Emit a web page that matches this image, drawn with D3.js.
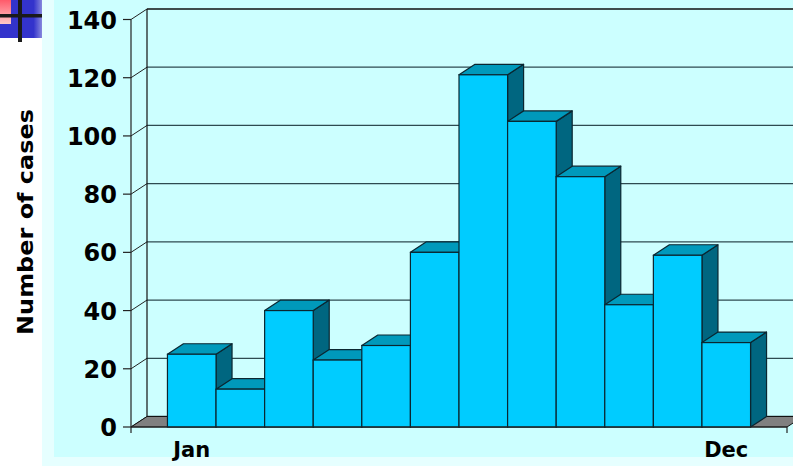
<!DOCTYPE html>
<html>
<head>
<meta charset="utf-8">
<script src="https://cdn.jsdelivr.net/npm/d3@7"></script>
<style>
  html, body { margin: 0; padding: 0; background: #fff; }
  svg { display: block; }
</style>
</head>
<body>
<div id="chart"></div>
<script>
// monthly case counts
const months = ["Jan", "Feb", "Mar", "Apr", "May", "Jun", "Jul", "Aug", "Sep", "Oct", "Nov", "Dec"];
const cases = [25, 13, 40, 23, 28, 60, 121, 105, 86, 42, 59, 29];
const yTicks = [0, 20, 40, 60, 80, 100, 120, 140];
const shownMonths = ["Jan", "Dec"];
const yTitle = "Number of cases";

const W = 793, H = 466;
const depthX = 16, depthY = -10.5; // 3d offset of back wall / bar depth

const svg = d3.select("#chart").append("svg")
  .attr("width", W)
  .attr("height", H);

const defs = svg.append("defs");

// backgrounds
svg.append("rect").attr("x", 42).attr("y", 0).attr("width", W - 42).attr("height", H).attr("fill", "#e6ffff");
svg.append("rect").attr("x", 54).attr("y", 0).attr("width", W - 54).attr("height", 457).attr("fill", "#ccffff");

// small slide logo in the corner
const blueGrad = defs.append("linearGradient").attr("id", "blueGrad");
blueGrad.append("stop").attr("offset", "0.8").attr("stop-color", "#3333cc");
blueGrad.append("stop").attr("offset", "1").attr("stop-color", "#8888dd");
const pinkGrad = defs.append("linearGradient").attr("id", "pinkGrad")
  .attr("x1", 0).attr("y1", 0).attr("x2", 0).attr("y2", 1);
pinkGrad.append("stop").attr("offset", "0").attr("stop-color", "#ff5a6a");
pinkGrad.append("stop").attr("offset", "1").attr("stop-color", "#ffc8c8");
const logo = svg.append("g");
logo.append("rect").attr("x", 0).attr("y", 0).attr("width", 42).attr("height", 38).attr("fill", "url(#blueGrad)");
logo.append("rect").attr("x", 0).attr("y", 0).attr("width", 11).attr("height", 24).attr("fill", "url(#pinkGrad)");
logo.append("rect").attr("x", 0).attr("y", 14).attr("width", 42).attr("height", 3.5).attr("fill", "#1a1a1a");
logo.append("rect").attr("x", 18).attr("y", 0).attr("width", 4).attr("height", 42).attr("fill", "#1a1a1a");

// scales
const x = d3.scaleBand()
  .domain(months)
  .range([131, 787])
  .paddingInner(0)
  .paddingOuter(0.75);

const y = d3.scaleLinear()
  .domain([0, 140])
  .range([427, 19.5]);

const x0 = x.range()[0], x1 = x.range()[1];

// back wall gridlines
const grid = svg.append("g");
grid.selectAll(".grid")
  .data(yTicks)
  .enter()
  .append("line")
  .attr("x1", x0 + depthX)
  .attr("x2", W + 20)
  .attr("y1", (d) => y(d) + depthY)
  .attr("y2", (d) => y(d) + depthY)
  .attr("stroke", (d) => (d === 140 ? "#111" : "#2e4a50"))
  .attr("stroke-width", 1.3);

// diagonal lines from the front axis to the wall
grid.selectAll(".diag")
  .data(yTicks)
  .enter()
  .append("line")
  .attr("x1", x0)
  .attr("y1", (d) => y(d))
  .attr("x2", x0 + depthX)
  .attr("y2", (d) => y(d) + depthY)
  .attr("stroke", "#222")
  .attr("stroke-width", 1);

// back wall left edge
grid.append("line")
  .attr("x1", x0 + depthX).attr("x2", x0 + depthX)
  .attr("y1", y(140) + depthY).attr("y2", y(0) + depthY)
  .attr("stroke", "#111").attr("stroke-width", 1.2);

// floor
svg.append("path")
  .attr("d", `M${x0},${y(0)}L${x1},${y(0)}L${x1 + depthX},${y(0) + depthY}L${x0 + depthX},${y(0) + depthY}Z`)
  .attr("fill", "#808080")
  .attr("stroke", "#111")
  .attr("stroke-width", 1);

// bars, drawn left to right so the next front face covers the previous side
const bw = x.bandwidth();
const bars = svg.selectAll(".bar")
  .data(months.map((m, i) => ({ m, v: cases[i] })))
  .enter()
  .append("g")
  .attr("class", "bar");

bars.append("path") // side
  .attr("d", (d) => {
    const bx = x(d.m) + bw, ty = y(d.v), by = y(0);
    return `M${bx},${by}L${bx},${ty}L${bx + depthX},${ty + depthY}L${bx + depthX},${by + depthY}Z`;
  })
  .attr("fill", "#006680")
  .attr("stroke", "#0a2630")
  .attr("stroke-width", 1.2)
  .attr("stroke-linejoin", "round");

bars.append("path") // top
  .attr("d", (d) => {
    const bx = x(d.m), ty = y(d.v);
    return `M${bx},${ty}L${bx + depthX},${ty + depthY}L${bx + bw + depthX},${ty + depthY}L${bx + bw},${ty}Z`;
  })
  .attr("fill", "#0099bb")
  .attr("stroke", "#0a2630")
  .attr("stroke-width", 1.2)
  .attr("stroke-linejoin", "round");

bars.append("rect") // front
  .attr("x", (d) => x(d.m))
  .attr("y", (d) => y(d.v))
  .attr("width", bw)
  .attr("height", (d) => y(0) - y(d.v))
  .attr("fill", "#00ccff")
  .attr("stroke", "#0a2630")
  .attr("stroke-width", 1.2);

// front axes
const axes = svg.append("g").attr("stroke", "#222").attr("stroke-width", 1.2);
axes.append("line").attr("x1", x0).attr("x2", x0).attr("y1", y(140)).attr("y2", y(0) + 6);
axes.append("line").attr("x1", x0).attr("x2", x1).attr("y1", y(0)).attr("y2", y(0));
axes.append("line").attr("x1", x1).attr("x2", x1).attr("y1", y(0)).attr("y2", y(0) + 6);
axes.selectAll(".tick")
  .data(yTicks)
  .enter()
  .append("line")
  .attr("x1", x0 - 8)
  .attr("x2", x0)
  .attr("y1", (d) => y(d))
  .attr("y2", (d) => y(d));

// y tick labels
svg.selectAll(".ylab")
  .data(yTicks)
  .enter()
  .append("text")
  .attr("x", 117)
  .attr("y", (d) => y(d) + 9)
  .attr("text-anchor", "end")
  .attr("font-family", "DejaVu Sans, Verdana, sans-serif")
  .attr("font-weight", "bold")
  .attr("font-size", "24px")
  .attr("fill", "#000")
  .text((d) => d);

// x labels (only first and last month shown)
svg.selectAll(".xlab")
  .data(shownMonths)
  .enter()
  .append("text")
  .attr("x", (d) => x(d) + bw / 2)
  .attr("y", 457)
  .attr("text-anchor", "middle")
  .attr("font-family", "DejaVu Sans, Verdana, sans-serif")
  .attr("font-weight", "bold")
  .attr("font-size", "21px")
  .attr("fill", "#000")
  .text((d) => d);

// y title
svg.append("text")
  .attr("transform", "translate(33,222) rotate(-90)")
  .attr("text-anchor", "middle")
  .attr("font-family", "DejaVu Sans, Verdana, sans-serif")
  .attr("font-weight", "bold")
  .attr("font-size", "21px")
  .attr("textLength", 226)
  .attr("lengthAdjust", "spacingAndGlyphs")
  .attr("fill", "#000")
  .text(yTitle);
</script>
</body>
</html>
